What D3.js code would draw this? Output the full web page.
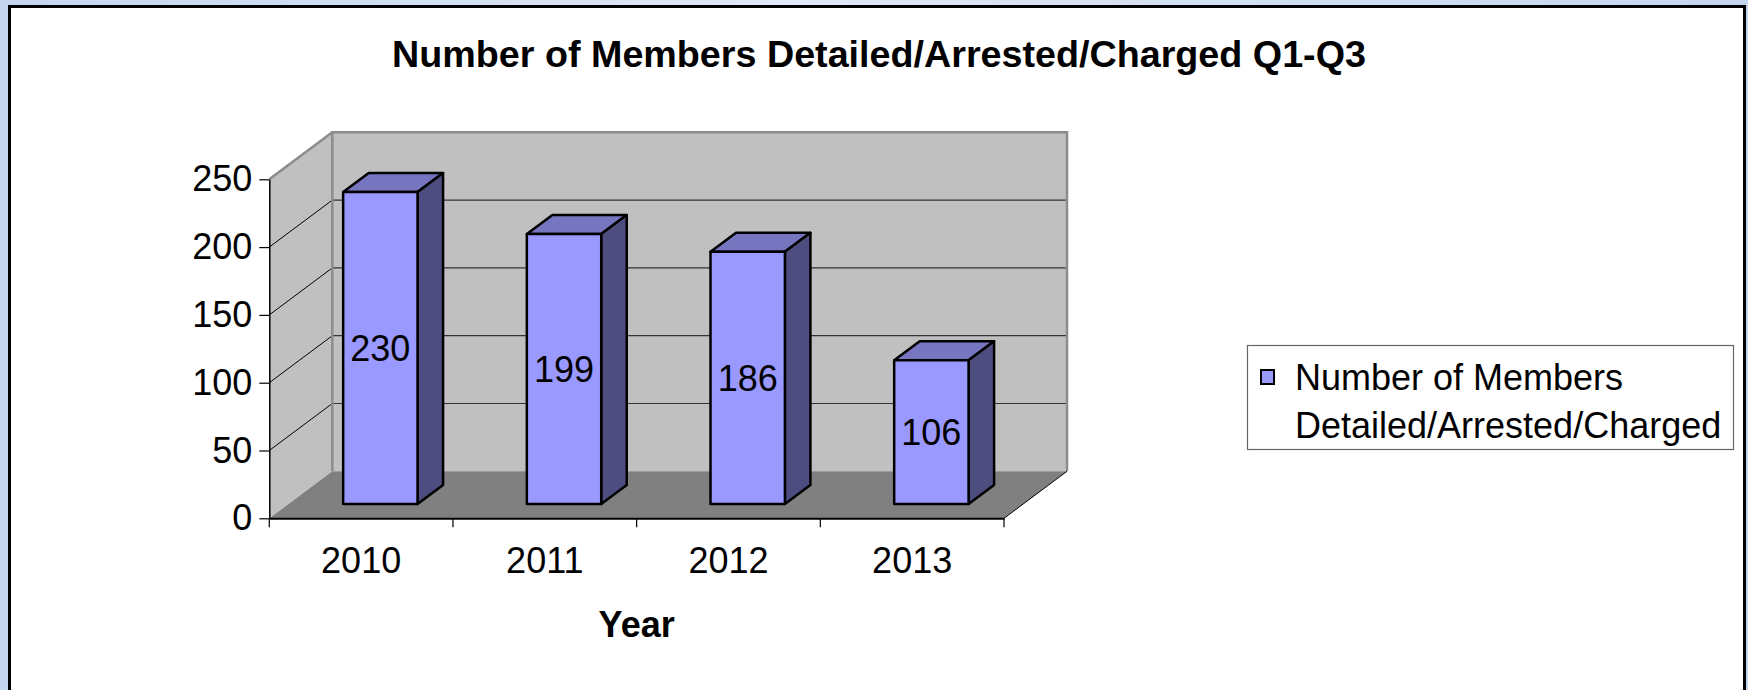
<!DOCTYPE html>
<html>
<head>
<meta charset="utf-8">
<script src="https://cdn.jsdelivr.net/npm/d3@7"></script>
<style>
  body { margin: 0; background: #c8d8f0; }
  svg { display: block; }
</style>
</head>
<body>
<script>
var w = 1748;
var h = 690;

// data
var years = ["2010", "2011", "2012", "2013"];
var members = [230, 199, 186, 106];
var yTicks = [0, 50, 100, 150, 200, 250];
var chartTitle = "Number of Members Detailed/Arrested/Charged Q1-Q3";
var xTitle = "Year";
var legendLines = ["Number of Members", "Detailed/Arrested/Charged"];

var font = "'Liberation Sans', Arial, sans-serif";
var fs = "36px";

// 3d box geometry
var x0 = 269.3, x1 = 1004;
var yBase = 518.3, yTop = 179.3;
var dx = 63, dy = 47;      // wall depth offset
var f0 = 0.305, f1 = 0.71; // bar depth (fraction of the box depth)
var barFrac = 0.405;

var svg = d3.select("body").append("svg")
    .attr("width", w)
    .attr("height", h);

var defs = svg.append("defs");
var grad = defs.append("linearGradient").attr("id", "bg")
    .attr("x1", 0).attr("y1", 0).attr("x2", 1).attr("y2", 0);
grad.append("stop").attr("offset", "0%").attr("stop-color", "#c4d5ee");
grad.append("stop").attr("offset", "45%").attr("stop-color", "#dfe9f7");
grad.append("stop").attr("offset", "100%").attr("stop-color", "#c4d5ee");

svg.append("rect").attr("width", w).attr("height", h).attr("fill", "url(#bg)");

// white chart frame (bottom edge runs past the picture)
svg.append("rect")
    .attr("x", 9.5).attr("y", 6.5)
    .attr("width", 1735).attr("height", 700)
    .attr("fill", "#ffffff")
    .attr("stroke", "#000")
    .attr("stroke-width", 3);

var x = d3.scaleBand().domain(years).range([x0, x1]).padding(0);
var y = d3.scaleLinear().domain([0, 250]).range([yBase, yTop]);

function pts(arr) {
    return arr.map(function (p) { return p[0] + "," + p[1]; }).join(" ");
}

// walls and floor
svg.append("polygon")
    .attr("points", pts([[x0, yBase], [x0, yTop], [x0 + dx, yTop - dy], [x0 + dx, yBase - dy]]))
    .attr("fill", "#c0c0c0");
svg.append("rect")
    .attr("x", x0 + dx).attr("y", yTop - dy)
    .attr("width", x1 - x0).attr("height", yBase - yTop)
    .attr("fill", "#c0c0c0");
svg.append("polygon")
    .attr("points", pts([[x0, yBase], [x1, yBase], [x1 + dx, yBase - dy], [x0 + dx, yBase - dy]]))
    .attr("fill", "#808080");

// gridlines
var grid = yTicks.filter(function (d) { return d > 0 && d < 250; });
svg.selectAll("line.side")
    .data(grid).enter().append("line")
    .attr("class", "side")
    .attr("x1", x0).attr("y1", function (d) { return y(d); })
    .attr("x2", x0 + dx).attr("y2", function (d) { return y(d) - dy; })
    .attr("stroke", "#000").attr("stroke-width", 1);
svg.selectAll("line.back")
    .data(grid).enter().append("line")
    .attr("class", "back")
    .attr("x1", x0 + dx).attr("y1", function (d) { return y(d) - dy; })
    .attr("x2", x1 + dx).attr("y2", function (d) { return y(d) - dy; })
    .attr("stroke", "#333").attr("stroke-width", 1.2);

// wall edges
svg.append("polyline")
    .attr("points", pts([[x0, yTop], [x0 + dx, yTop - dy], [x1 + dx, yTop - dy], [x1 + dx, yBase - dy]]))
    .attr("fill", "none").attr("stroke", "#8c8c8c").attr("stroke-width", 2.5);
svg.append("line")
    .attr("x1", x0 + dx).attr("y1", yTop - dy)
    .attr("x2", x0 + dx).attr("y2", yBase - dy)
    .attr("stroke", "#8c8c8c").attr("stroke-width", 2.5);
svg.append("line")
    .attr("x1", x1).attr("y1", yBase)
    .attr("x2", x1 + dx).attr("y2", yBase - dy)
    .attr("stroke", "#000").attr("stroke-width", 1);

// y axis
var yAxis = svg.append("g")
    .attr("transform", "translate(" + x0 + ",0)")
    .call(d3.axisLeft(y).tickValues(yTicks).tickSize(10).tickPadding(7).tickSizeOuter(0));
yAxis.select(".domain").attr("stroke", "#000").attr("stroke-width", 1.5);
yAxis.selectAll(".tick line").attr("stroke", "#000").attr("stroke-width", 1.2);
yAxis.selectAll("text")
    .attr("font-family", font).attr("font-size", fs).attr("fill", "#000");

// x axis
var xAxis = svg.append("g")
    .attr("transform", "translate(0," + yBase + ")")
    .call(d3.axisBottom(x).tickSize(0).tickPadding(29));
xAxis.select(".domain").attr("stroke", "#000").attr("stroke-width", 2);
xAxis.selectAll("text")
    .attr("font-family", font).attr("font-size", fs).attr("fill", "#000");

var bounds = years.map(function (d) { return x(d); }).concat([x1]);
svg.selectAll("line.xtick")
    .data(bounds).enter().append("line")
    .attr("class", "xtick")
    .attr("x1", function (d) { return d; }).attr("y1", yBase)
    .attr("x2", function (d) { return d; }).attr("y2", yBase + 9)
    .attr("stroke", "#000").attr("stroke-width", 1.2);

// 3d bars
var bw = x.bandwidth() * barFrac;
var ddx = (f1 - f0) * dx, ddy = (f1 - f0) * dy;

function bx(d, i) { return x(years[i]) + (x.bandwidth() - bw) / 2 + f0 * dx; }
function btop(d) { return y(d) - f0 * dy; }
var bbot = yBase - f0 * dy;

var bars = svg.selectAll("g.bar")
    .data(members).enter().append("g")
    .attr("class", "bar");

bars.append("polygon")
    .attr("points", function (d, i) {
        var l = bx(d, i), r = l + bw, t = btop(d);
        return pts([[l, t], [r, t], [r + ddx, t - ddy], [l + ddx, t - ddy]]);
    })
    .attr("fill", "#7575c0");
bars.append("polygon")
    .attr("points", function (d, i) {
        var r = bx(d, i) + bw, t = btop(d);
        return pts([[r, t], [r + ddx, t - ddy], [r + ddx, bbot - ddy], [r, bbot]]);
    })
    .attr("fill", "#4d4d80");
bars.append("rect")
    .attr("x", function (d, i) { return bx(d, i); })
    .attr("y", function (d) { return btop(d); })
    .attr("width", bw)
    .attr("height", function (d) { return bbot - btop(d); })
    .attr("fill", "#9999ff");
bars.selectAll("polygon, rect")
    .attr("stroke", "#000")
    .attr("stroke-width", 2.5)
    .attr("stroke-linejoin", "round");

// value labels in the middle of each front face
bars.append("text")
    .text(function (d) { return d; })
    .attr("x", function (d, i) { return bx(d, i) + bw / 2; })
    .attr("y", function (d) { return (btop(d) + bbot) / 2; })
    .attr("dy", "0.36em")
    .attr("text-anchor", "middle")
    .attr("font-family", font)
    .attr("font-size", fs)
    .attr("fill", "#000");

// titles
svg.append("text")
    .text(chartTitle)
    .attr("x", 879).attr("y", 66.7)
    .attr("text-anchor", "middle")
    .attr("font-family", font)
    .attr("font-weight", "bold")
    .attr("font-size", "37.7px")
    .attr("fill", "#000");

svg.append("text")
    .text(xTitle)
    .attr("x", (x0 + x1) / 2).attr("y", 637)
    .attr("text-anchor", "middle")
    .attr("font-family", font)
    .attr("font-weight", "bold")
    .attr("font-size", "36px")
    .attr("fill", "#000");

// legend
var legend = svg.append("g");
legend.append("rect")
    .attr("x", 1247.5).attr("y", 345.5)
    .attr("width", 486).attr("height", 104)
    .attr("fill", "#fff")
    .attr("stroke", "#666").attr("stroke-width", 1.2);
legend.append("rect")
    .attr("x", 1261).attr("y", 370)
    .attr("width", 13).attr("height", 14)
    .attr("fill", "#9999ff")
    .attr("stroke", "#000").attr("stroke-width", 2);
legend.selectAll("text")
    .data(legendLines).enter().append("text")
    .text(function (d) { return d; })
    .attr("x", 1295)
    .attr("y", function (d, i) { return 390 + i * 48; })
    .attr("font-family", font)
    .attr("font-size", fs)
    .attr("fill", "#000");
</script>
</body>
</html>
